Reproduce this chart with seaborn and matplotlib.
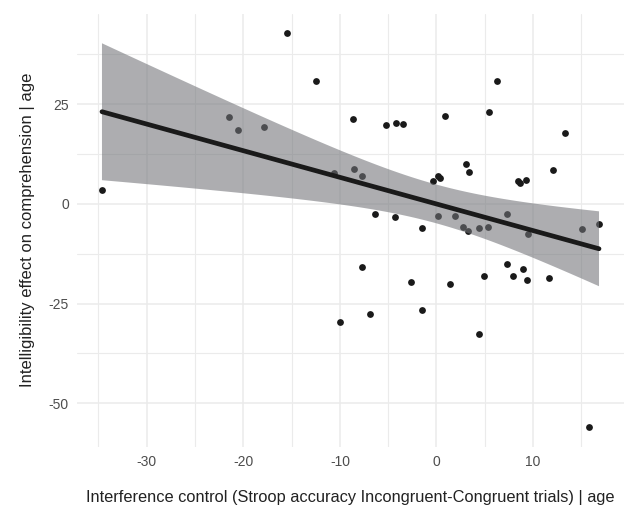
import matplotlib
matplotlib.use("Agg")
import matplotlib.pyplot as plt
from matplotlib.ticker import MultipleLocator
import seaborn as sns
import numpy as np
import pandas as pd

# residualised scores
stroop = [-34.64, -21.44, -20.54, -17.85, -15.51, -12.47, -10.61, -8.69, -8.54, -7.68,
          -5.23, -4.17, -3.47, 0.83, -0.31, 0.14, 0.41, -6.34, -4.34, 0.18,
          -1.48, 6.31, 5.45, 13.28, 3.04, 3.35, 8.42, 8.62, 9.28, 12.04,
          1.93, 7.28, 2.73, 3.28, 4.38, 5.35, 9.51, 15.10, 16.83, 7.34,
          4.97, 7.90, 9.00, 9.35, 11.62, 1.35, -1.55, 4.42, 15.79, -7.76,
          -2.69, -6.89, -9.99]
intellig = [3.6, 21.7, 18.5, 19.3, 42.8, 30.8, 7.7, 21.2, 8.8, 7.0,
            19.8, 20.2, 20.1, 22.1, 5.8, 7.1, 6.6, -2.5, -3.3, -3.0,
            -6.0, 30.8, 23.0, 17.7, 10.0, 8.0, 5.8, 5.3, 5.9, 8.6,
            -2.9, -2.6, -5.8, -6.8, -6.0, -5.8, -7.5, -6.2, -5.0, -15.0,
            -18.1, -18.0, -16.4, -19.1, -18.5, -20.1, -26.5, -32.6, -56.0, -15.7,
            -19.5, -27.7, -29.7]

df = pd.DataFrame({"x": stroop, "y": intellig})

sns.set_style("white")
plt.rcParams["font.family"] = ["Liberation Sans", "DejaVu Sans"]
plt.rcParams["axes.unicode_minus"] = False

fig, ax = plt.subplots(figsize=(6.27, 5.05), dpi=100)
fig.subplots_adjust(left=0.123, right=0.995, bottom=0.115, top=0.973)

sns.scatterplot(data=df, x="x", y="y", color="#1a1a1a", s=24, linewidth=0,
                ax=ax, zorder=1)

# analytic 95% confidence band for the OLS fit (like geom_smooth(method="lm"))
x = np.asarray(stroop)
y = np.asarray(intellig)
n = len(x)
slope, icpt = np.polyfit(x, y, 1)
resid = y - (icpt + slope * x)
s_err = np.sqrt(np.sum(resid ** 2) / (n - 2))
grid = np.linspace(x.min(), x.max(), 200)
se_fit = s_err * np.sqrt(1 / n + (grid - x.mean()) ** 2 / np.sum((x - x.mean()) ** 2))
t_crit = 2.0076  # t(0.975, df=51)
fit = icpt + slope * grid
ax.fill_between(grid, fit - t_crit * se_fit, fit + t_crit * se_fit,
                facecolor="#727378", alpha=0.58, edgecolor="none", zorder=2)

sns.regplot(data=df, x="x", y="y", scatter=False, ci=None,
            color="#1a1a1a", line_kws={"linewidth": 3.4, "zorder": 3}, ax=ax)

# ggplot-like 5% expansion
xr = x.max() - x.min()
yr = y.max() - y.min()
ax.set_xlim(x.min() - 0.05 * xr, x.max() + 0.05 * xr)
ax.set_ylim(y.min() - 0.05 * yr, y.max() + 0.05 * yr)

ax.xaxis.set_major_locator(MultipleLocator(10))
ax.xaxis.set_minor_locator(MultipleLocator(5))
ax.yaxis.set_major_locator(MultipleLocator(25))
ax.yaxis.set_minor_locator(MultipleLocator(12.5))

ax.grid(which="major", color="#ebebeb", linewidth=1.1, zorder=0)
ax.grid(which="minor", color="#ebebeb", linewidth=0.8, zorder=0)
ax.set_axisbelow(True)
for sp in ax.spines.values():
    sp.set_visible(False)
ax.tick_params(which="both", length=0, labelsize=10, labelcolor="#4d4d4d", pad=6)

ax.set_xlabel("Interference control (Stroop accuracy Incongruent-Congruent trials) | age",
              fontsize=11.8, color="#222222", labelpad=15)
ax.set_ylabel("Intelligibility effect on comprehension | age",
              fontsize=12, color="#222222", labelpad=10)

fig.savefig("out.png", dpi=100)
